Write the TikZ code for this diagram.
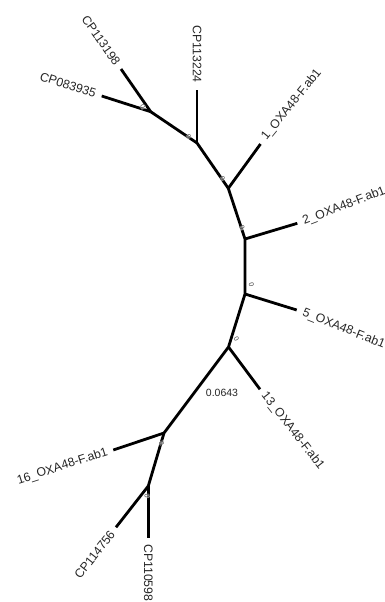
\documentclass[tikz,border=0pt]{standalone}
\usepackage{fontspec}
\setmainfont{Liberation Sans}
\begin{document}
\begin{tikzpicture}[x=1pt,y=-1pt,
  branch/.style={line width=2.8pt,line cap=butt,line join=round,black},
  leaf/.style={inner sep=0pt,font=\fontsize{12.3}{14}\selectfont,text=black!85},
  zero/.style={inner sep=0.2pt,font=\fontsize{7}{8}\selectfont,text=black!75,
    fill=white,fill opacity=0.5,text opacity=1,rounded corners=1pt},
  scalelab/.style={inner sep=0pt,font=\fontsize{10.5}{12}\selectfont,text=black!85}]
\useasboundingbox[fill=white] (0,0) rectangle (385,602);
% internal nodes
\coordinate (A) at (150.7,111.7);
\coordinate (B) at (197,143);
\coordinate (C) at (228.3,188.3);
\coordinate (D) at (245,239);
\coordinate (E) at (245,294);
\coordinate (F) at (228.5,347);
\coordinate (G) at (164,433);
\coordinate (H) at (148.3,486);
% tips
\coordinate (t1) at (121,69);
\coordinate (t2) at (101.7,96);
\coordinate (t3) at (197,90);
\coordinate (t4) at (260.5,144);
\coordinate (t5) at (297.3,223.3);
\coordinate (t6) at (296.7,310);
\coordinate (t7) at (260,389.3);
\coordinate (t8) at (113.3,450);
\coordinate (t9) at (116,527.3);
\coordinate (t10) at (148.3,538.3);
% backbone
\draw[branch] (A) -- (B) -- (C) -- (D) -- (E) -- (F) -- (G) -- (H);
% leaf branches
\draw[branch] (A) -- (t1);
\draw[branch] (A) -- (t2);
\draw[branch] (B) -- (t3);
\draw[branch] (C) -- (t4);
\draw[branch] (D) -- (t5);
\draw[branch] (E) -- (t6);
\draw[branch] (F) -- (t7);
\draw[branch] (G) -- (t8);
\draw[branch] (H) -- (t9);
\draw[branch] (H) -- (t10);
% labels
\node[leaf,anchor=east,rotate=-55] (l1) at (117.6,64) {CP113198};
\node[leaf,anchor=east,rotate=-18] (l2) at (96,94) {CP083935};
\node[leaf,anchor=east,rotate=-90] (l3) at (197,83) {CP113224};
\node[leaf,anchor=west,rotate=51] (l4) at (264,139) {1\_OXA48-F.ab1};
\node[leaf,anchor=west,rotate=21] (l5) at (303,222) {2\_OXA48-F.ab1};
\node[leaf,anchor=west,rotate=-22] (l6) at (303,312.5) {5\_OXA48-F.ab1};
\node[leaf,anchor=west,rotate=-52] (l7) at (263.5,393.5) {13\_OXA48-F.ab1};
\node[leaf,anchor=east,rotate=18] (l8) at (107.5,452) {16\_OXA48-F.ab1};
\node[leaf,anchor=east,rotate=52] (l9) at (112.5,532) {CP114756};
\node[leaf,anchor=west,rotate=-90] (l10) at (148.3,544) {CP110598};
\node[scalelab] (sc) at (222,392.5) {0.0643};
% small zero marks
\node[zero,rotate=-70] (z1) at (143,107) {0};
\node[zero,rotate=-55] (z2) at (188.5,136.5) {0};
\node[zero,rotate=-55] (z3) at (222.5,178.5) {0};
\node[zero,rotate=-70] (z4) at (242,228) {0};
\node[zero,rotate=-75] (z5) at (251.5,285) {0};
\node[zero,rotate=-60] (z6) at (236.5,339) {0};
\node[zero,rotate=-70] (z7) at (161.5,443) {0};
\node[zero,rotate=-80] (z8) at (147,496) {0};
\end{tikzpicture}
\end{document}
